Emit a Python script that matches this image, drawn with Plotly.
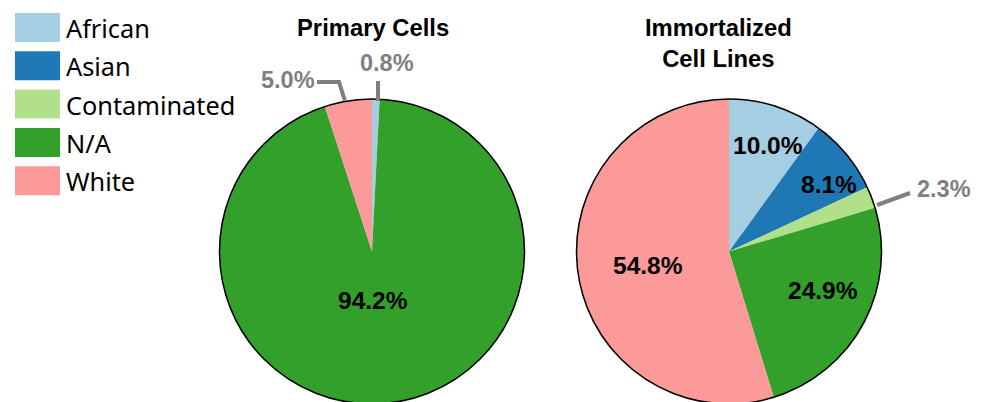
import plotly.graph_objects as go

# The page body has an 8px margin; work in reference-pixel coordinates and shift.
OFF = 8
W, H = 983 - OFF, 430

categories = ["African", "Asian", "Contaminated", "N/A", "White"]
colors = ["#a6cee3", "#1f78b4", "#b2df8a", "#33a02c", "#fb9a99"]
primary_values = [0.8, 0.0, 0.0, 94.2, 5.0]
immortal_values = [10.0, 8.1, 2.3, 24.9, 54.8]
titles = ["Primary Cells", "Immortalized<br>Cell Lines"]


def px(x, y):
    return (x - OFF) / W, 1 - (y - OFF) / H


R = 152.5
centers = [(372, 251.5), (729, 251.5)]


def dom(cx, cy):
    x0, y0 = px(cx - R, cy + R)
    x1, y1 = px(cx + R, cy - R)
    return dict(x=[max(0, x0), min(1, x1)], y=[max(0, y0), min(1, y1)])


fig = go.Figure()
for (cx, cy), vals in zip(centers, [primary_values, immortal_values]):
    fig.add_trace(go.Pie(
        labels=categories, values=vals, sort=False, direction="clockwise", rotation=0,
        marker=dict(colors=colors, line=dict(width=0)), textinfo="none",
        hoverinfo="label+percent", showlegend=False, domain=dom(cx, cy),
    ))
    fig.add_trace(go.Pie(
        labels=["outline"], values=[1], sort=False, textinfo="none",
        marker=dict(colors=["rgba(0,0,0,0)"], line=dict(color="black", width=1.5)),
        hoverinfo="skip", showlegend=False, domain=dom(cx, cy),
    ))

annotations = []
shapes = []

# titles
title_pos = [(373, 28), (718, 43)]
for t, (x, y) in zip(titles, title_pos):
    ax, ay = px(x, y)
    annotations.append(dict(x=ax, y=ay, xref="paper", yref="paper", text=t, showarrow=False,
                            font=dict(family="Liberation Sans", size=23.8, color="black", weight="bold"),
                            xanchor="center", yanchor="middle"))

# inside labels (black)
inside = [
    (f"{primary_values[3]:.1f}%", 373, 300),
    (f"{immortal_values[0]:.1f}%", 768, 145),
    (f"{immortal_values[1]:.1f}%", 829, 185),
    (f"{immortal_values[3]:.1f}%", 823, 290),
    (f"{immortal_values[4]:.1f}%", 648, 265),
]
for t, x, y in inside:
    ax, ay = px(x, y)
    annotations.append(dict(x=ax, y=ay, xref="paper", yref="paper", text=t, showarrow=False,
                            font=dict(family="Liberation Sans", size=24.5, color="black", weight="bold"),
                            xanchor="center", yanchor="middle"))

# outside labels (grey) with leader lines
grey = "#7f7f7f"
outside = [
    (f"{primary_values[0]:.1f}%", 387, 63),
    (f"{primary_values[4]:.1f}%", 288, 80),
    (f"{immortal_values[2]:.1f}%", 944, 189),
]
for t, x, y in outside:
    ax, ay = px(x, y)
    annotations.append(dict(x=ax, y=ay, xref="paper", yref="paper", text=t, showarrow=False,
                            font=dict(family="Liberation Sans", size=23.5, color=grey, weight="bold"),
                            xanchor="center", yanchor="middle"))

leaders = [
    [(378, 101), (378, 81)],
    [(317, 82), (339, 82), (345, 101)],
    [(877, 205), (910, 193)],
]
for pts in leaders:
    path = ""
    for i, (x, y) in enumerate(pts):
        a, b = px(x, y)
        path += ("M" if i == 0 else "L") + f"{a},{b} "
    shapes.append(dict(type="path", path=path.strip(), xref="paper", yref="paper",
                       line=dict(color=grey, width=4)))

# legend
for i, (c, col) in enumerate(zip(categories, colors)):
    y0 = 13 + i * 38.3
    x0a, y0a = px(15, y0)
    x1a, y1a = px(60, y0 + 29)
    shapes.append(dict(type="rect", xref="paper", yref="paper", x0=x0a, x1=x1a, y0=y1a, y1=y0a,
                       fillcolor=col, line=dict(width=0)))
    tx, ty = px(64, y0 + 15)
    annotations.append(dict(x=tx, y=ty, xref="paper", yref="paper", text=c, showarrow=False,
                            font=dict(family="Noto Sans", size=25.3, color="black"),
                            xanchor="left", yanchor="middle"))

fig.update_layout(
    width=W, height=H, margin=dict(l=0, r=0, t=0, b=0),
    paper_bgcolor="white", plot_bgcolor="white",
    annotations=annotations, shapes=shapes,
)

fig.write_html("out.html")
